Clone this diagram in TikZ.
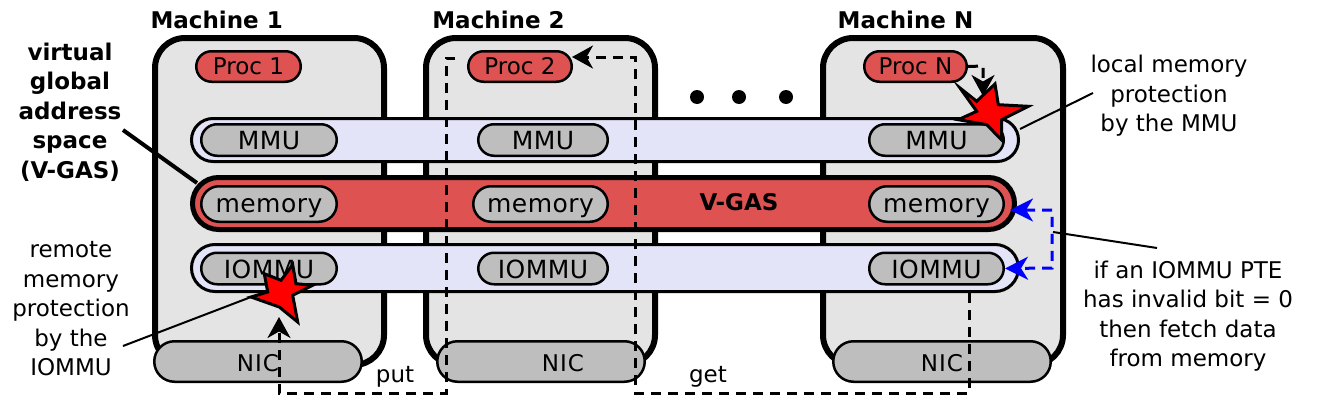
\documentclass[tikz,border=0pt]{standalone}
\usepackage{fontspec}
\setmainfont{DejaVu Sans}
\newfontfamily\pillfont[LetterSpace=2]{DejaVu Sans}
\newfontfamily\nicfont[LetterSpace=4.5]{DejaVu Sans}
\usetikzlibrary{arrows.meta,calc}
\definecolor{procred}{RGB}{222,82,82}
\definecolor{machgray}{RGB}{228,228,228}
\definecolor{pillgray}{RGB}{190,190,190}
\definecolor{lav}{RGB}{228,228,248}
\begin{document}
\begin{tikzpicture}[x=1pt,y=-1pt,
  every node/.style={font=\fontsize{23}{29.5}\selectfont,inner sep=0pt},
  boldtxt/.style={font=\bfseries\fontsize{23}{29.5}\selectfont},
  machine/.style={draw,line width=6pt,fill=machgray,rounded corners=30pt,minimum height=327pt},
  band/.style={draw,line width=3pt,fill=lav},
  pill/.style={draw,line width=2.5pt,fill=pillgray,minimum height=31.5pt,rounded corners=15.75pt,text height=19pt,text depth=0pt,font=\pillfont\fontsize{25}{30}\selectfont},
  mempill/.style={pill,minimum height=35.5pt,rounded corners=17.75pt,text height=16pt},
  procpill/.style={draw,line width=2.5pt,fill=procred,minimum height=30.5pt,rounded corners=15.25pt,text height=15pt,text depth=0pt},
  nicpill/.style={draw,line width=2.5pt,fill=pillgray,minimum height=40.5pt,rounded corners=20.25pt,text height=20pt,text depth=0pt,font=\nicfont\fontsize{23}{29.5}\selectfont},
  dot/.style={circle,fill=black,minimum size=14pt},
  starst/.style={draw,line width=3pt,fill=red,line join=miter},
  flow/.style={line width=3pt,dash pattern=on 10pt off 7pt},
  tip/.style={-{Stealth[length=21pt,width=23pt,inset=6.5pt]}},
  leader/.style={line width=2pt},
  note/.style={align=center,anchor=north}
]
\useasboundingbox (0,0) rectangle (1318,407);

% machines
\node[machine,minimum width=229pt] (m1) at (269.5,201.5) {};
\node[machine,minimum width=229pt] (m2) at (540.5,201.5) {};
\node[machine,minimum width=240pt] (mN) at (943,201.5) {};
\node[boldtxt,anchor=base] (lab1) at (216.7,28) {Machine 1};
\node[boldtxt,anchor=base] (lab2) at (498.5,28) {Machine 2};
\node[boldtxt,anchor=base] (labN) at (905.5,28) {Machine N};

% dots
\node[dot] (d1) at (697,97) {};
\node[dot] (d2) at (739,97) {};
\node[dot] (d3) at (786,97) {};

% bands
\node[band,minimum width=827pt,minimum height=43pt,rounded corners=21.5pt] (mmuband) at (605,140) {};
\node[draw,line width=5pt,fill=procred,minimum width=822pt,minimum height=52pt,rounded corners=26pt] (memband) at (603.5,203.5) {};
\node[band,minimum width=827pt,minimum height=47pt,rounded corners=23.5pt] (iommuband) at (605,268) {};
\node[boldtxt,anchor=base] (vgas) at (739,210) {V-GAS};

% processors
\node[procpill,minimum width=104.5pt] (proc1) at (248.5,66.5) {Proc 1};
\node[procpill,minimum width=103.5pt] (proc2) at (520,66.5) {Proc 2};
\node[procpill,minimum width=102.5pt] (procN) at (915.5,66.5) {Proc N};

% MMU pills
\node[pill,minimum width=135.5pt] (mmu1) at (269,140) {MMU};
\node[pill,minimum width=129.5pt] (mmu2) at (543,140) {MMU};
\node[pill,minimum width=134.5pt] (mmuN) at (936.5,140) {MMU};

% memory pills
\node[mempill,minimum width=135.5pt] (mem1) at (269,204) {memory};
\node[mempill,minimum width=134.5pt] (mem2) at (540.5,204) {memory};
\node[mempill,minimum width=134.5pt] (memN) at (936.5,204) {memory};

% IOMMU pills
\node[pill,minimum width=135.5pt] (iommu1) at (269,268.5) {IOMMU};
\node[pill,minimum width=129.5pt] (iommu2) at (543,268.5) {IOMMU};
\node[pill,minimum width=134.5pt] (iommuN) at (936.5,268.5) {IOMMU};

% NICs
\node[nicpill,minimum width=207.5pt] (nic1) at (258,361.5) {NIC};
\node[nicpill,minimum width=207.5pt] (nic2) at (541,361.5) {\hspace*{44pt}NIC};
\node[nicpill,minimum width=217.5pt] (nicN) at (942,361.5) {NIC};

% stars
\draw[starst] (960,88) -- (976.7,101.3) -- (995,84) -- (998.3,104.7) -- (1028.3,106.3)
  -- (1001.7,119.7) -- (1001.7,140) -- (986.7,124.7) -- (958.3,119.7) -- (976.7,111.3) -- cycle;
\draw[starst] (312.7,285.3) -- (292.7,295.3) -- (297.7,322) -- (279.3,307) -- (251,297)
  -- (267.7,292) -- (264.3,273.7) -- (281,280.3) -- (292.7,264.7) -- (296,283.7) -- cycle;
\coordinate (starNtop) at (983,96);
\coordinate (star1bot) at (279,317);
\coordinate (star1left) at (251,297);

% flows
\coordinate (putstart) at (455,58);
\coordinate (getstart) at (969,293);
\coordinate (p2in) at (572,57);
\coordinate (memin) at (1010,210);
\draw[flow,tip] (putstart) -- (446,58) -- (446,393) -- (279,393) -- (star1bot);
\draw[flow,tip] (getstart) -- (969,393) -- (635,393) -- (635,57) -- (p2in);
\draw[flow,tip] (procN.east) -- (983,66) -- (starNtop);
\draw[flow,blue,{Stealth[length=23pt,width=23pt,inset=7pt]}-{Stealth[length=23pt,width=23pt,inset=7pt]}]
  (memin) -- (1052,210) -- (1052,268) -- (iommuN.east);
\node[anchor=base] (put) at (395,382) {put};
\node[anchor=base] (get) at (708,382) {get};

% annotations
\node[note,boldtxt] (vtext) at (70,42.5) {virtual\\global\\address\\space\\(V-GAS)};
\node[note] (rtext) at (71,241.5) {remote\\memory\\protection\\by the\\IOMMU};
\node[note] (ltext) at (1169,55) {local memory\\protection\\by the MMU};
\node[note] (itext) at (1188,260.5) {if an IOMMU PTE\\has invalid bit = 0\\then fetch data\\from memory};
\coordinate (vl) at (123,130);
\coordinate (vb) at (197,183);
\coordinate (rl) at (123,346);
\coordinate (ll) at (1093,93);
\coordinate (lb) at (1020,129);
\coordinate (il) at (1157,248);
\coordinate (ib) at (1053,232);
\draw[line width=4pt] (vl) -- (vb);
\draw[leader] (rl) -- (star1left);
\draw[leader] (ll) -- (lb);
\draw[leader] (il) -- (ib);
\end{tikzpicture}
\end{document}
